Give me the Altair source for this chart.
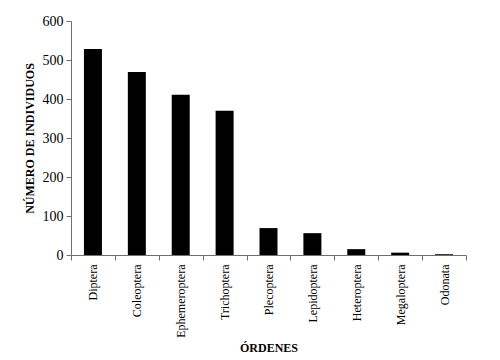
import altair as alt
import pandas as pd

orders = ["Diptera", "Coleoptera", "Ephemeroptera", "Trichoptera", "Plecoptera",
          "Lepidoptera", "Heteroptera", "Megaloptera", "Odonata"]
counts = [528, 469, 411, 370, 69, 56, 15, 6, 2]

df = pd.DataFrame({"orden": orders, "n": counts})

font = "Liberation Serif"
axis_color = "#6e6e6e"

chart = alt.Chart(df).mark_bar(size=18, color="black").encode(
    x=alt.X("orden:N", sort=orders, title="ÓRDENES",
            scale=alt.Scale(paddingInner=0, paddingOuter=0),
            axis=alt.Axis(labelAngle=-90, labelAlign="right", labelBaseline="middle",
                          tickBand="extent", tickSize=5, labelPadding=4,
                          labelFontSize=12, labelFont=font, labelColor="black",
                          titleFont=font, titleFontSize=12, titleFontWeight="bold",
                          titleColor="black", titlePadding=5,
                          domainColor=axis_color, tickColor=axis_color, grid=False)),
    y=alt.Y("n:Q", title="NÚMERO DE INDIVIDUOS",
            scale=alt.Scale(domain=[0, 600], nice=False),
            axis=alt.Axis(values=[0, 100, 200, 300, 400, 500, 600], tickSize=5,
                          labelPadding=3, labelFontSize=14, labelFont=font,
                          labelColor="black", titleFont=font, titleFontSize=12,
                          titleFontWeight="bold", titleColor="black", titlePadding=6,
                          domainColor=axis_color, tickColor=axis_color, grid=False)),
).properties(
    width=395, height=234,
    autosize=alt.AutoSizeParams(type="none"),
    padding={"left": 63, "top": 13, "right": 20, "bottom": 103},
).configure_view(stroke=None)

chart.save("out.html", embed_options={"renderer": "svg", "actions": False})
